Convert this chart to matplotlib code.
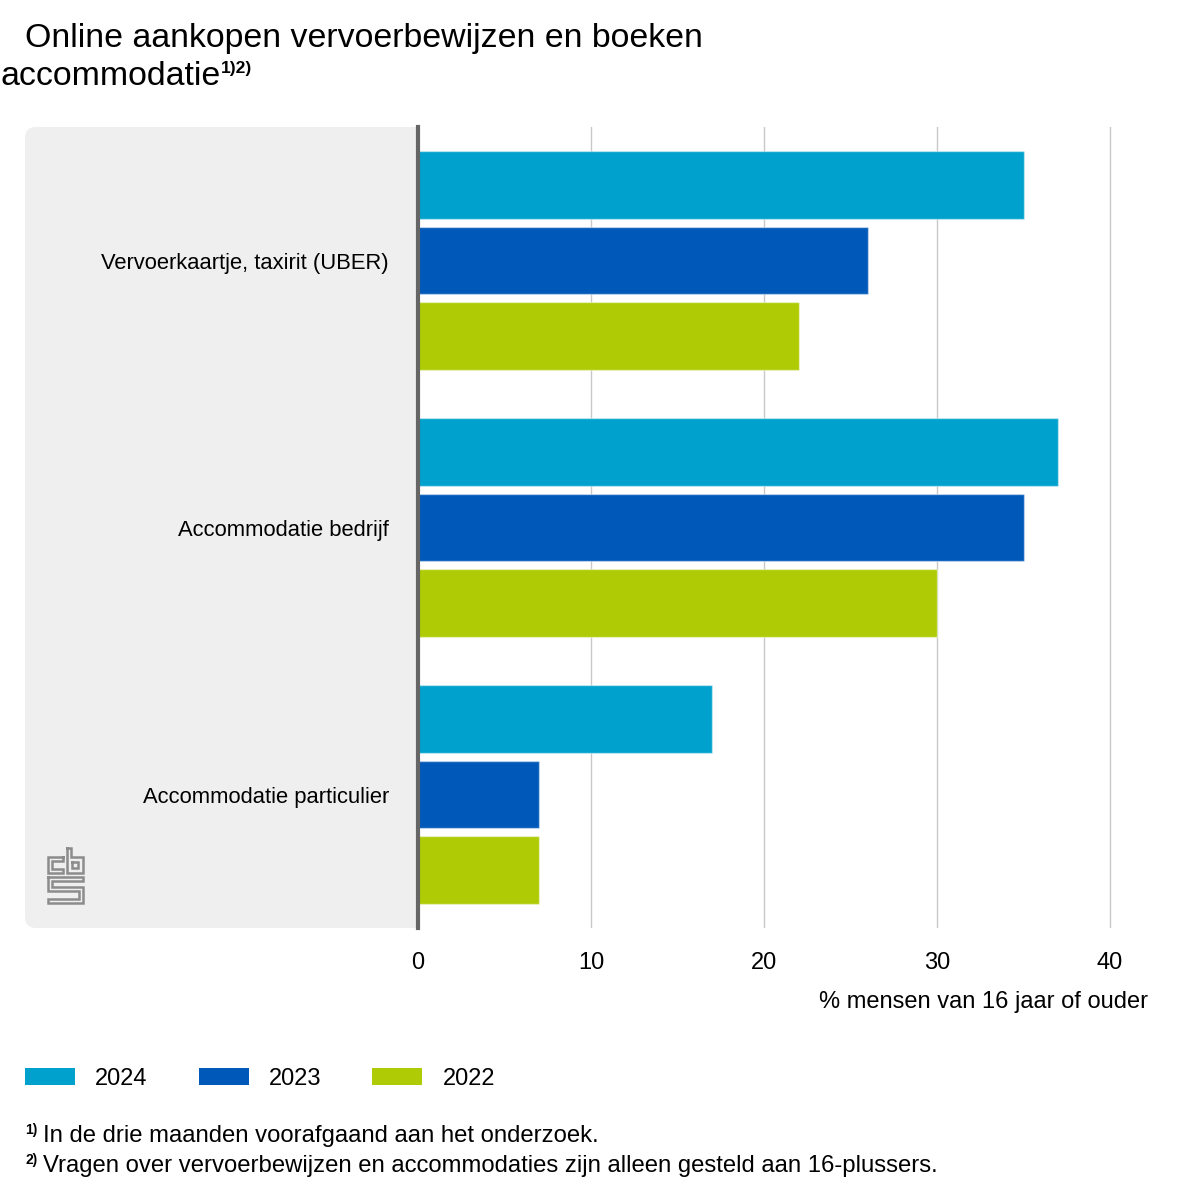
import matplotlib.pyplot as plt
import numpy as np
from matplotlib.patches import FancyBboxPatch
from matplotlib.lines import Line2D

plt.rcParams['font.family'] = ['Liberation Sans', 'DejaVu Sans']

categories = ['Vervoerkaartje, taxirit (UBER)', 'Accommodatie bedrijf', 'Accommodatie particulier']
years = ['2024', '2023', '2022']
values = {
    '2024': [35, 37, 17],
    '2023': [26, 35, 7],
    '2022': [22, 30, 7],
}
colors = {'2024': '#00a1cd', '2023': '#0058b8', '2022': '#afcb05'}
ticks = [0, 10, 20, 30, 40]

W = 1200.0
def fx(px):
    return px / W
def fy(py):
    return 1 - py / W

fig = plt.figure(figsize=(12, 12), dpi=100)

# grey panel behind the category labels
panel = FancyBboxPatch((fx(25), fy(928)), fx(440) - fx(25), fy(127) - fy(928),
                       boxstyle='round,pad=0,rounding_size=0.009',
                       transform=fig.transFigure, facecolor='#efefef',
                       edgecolor='none', zorder=-2)
fig.add_artist(panel)

ax = fig.add_axes([fx(418), fy(928), (40.3 * 17.3) / W, 801 / W])
ax.set_facecolor('white')

y = np.arange(len(categories))
step = 0.282
height = 0.254
for i, yr in enumerate(years):
    ax.barh(y + (i - 1) * step, values[yr], height=height, color=colors[yr],
            edgecolor=(1, 1, 1, 0.45), linewidth=1, label=yr, zorder=2)

ax.set_xlim(0, 40.3)
ax.set_ylim(len(categories) - 0.5, -0.5)
ax.set_xticks(ticks)
ax.set_xticklabels([str(t) for t in ticks])
ax.set_yticks(y)
ax.set_yticklabels(categories)
ax.grid(axis='x', color='#c8c8c8', linewidth=1, zorder=0)
ax.set_axisbelow(True)
for s in ax.spines.values():
    s.set_visible(False)
ax.axvline(0, color='#666666', linewidth=3, zorder=3, clip_on=False)
ax.tick_params(axis='both', length=0)
ax.tick_params(axis='x', pad=17.5, labelsize=17)
ax.tick_params(axis='y', pad=21, labelsize=15.8)

ax.set_xlabel('% mensen van 16 jaar of ouder', fontsize=17, ha='right', va='center')
ax.xaxis.set_label_coords((1148 - 418) / (40.3 * 17.3), (928 - 1002) / 801)

# title
t1 = fig.text(fx(25), fy(47), 'Online aankopen vervoerbewijzen en boeken',
              fontsize=24.4, va='baseline', ha='left')
t2 = fig.text(fx(1), fy(85), 'accommodatie', fontsize=24.4, va='baseline', ha='left')
fig.canvas.draw()
bb = t2.get_window_extent()
fig.text(bb.x1 / W - 0.0005, fy(73), '1)2)', fontsize=12.5, fontweight='bold',
         va='baseline', ha='left')

# legend
leg = fig.legend(*ax.get_legend_handles_labels(), loc='center left',
                 bbox_to_anchor=(fx(25), fy(1079)), ncol=3, frameon=False,
                 fontsize=17, handlelength=2.12, handleheight=0.76,
                 handletextpad=0.85, columnspacing=2.16, borderpad=0,
                 borderaxespad=0)
for h in leg.legend_handles:
    h.set_edgecolor('none')

# footnotes
fig.text(fx(25), fy(1134), '1)', fontsize=10, fontweight='bold', va='baseline')
fig.text(fx(43), fy(1142), 'In de drie maanden voorafgaand aan het onderzoek.',
         fontsize=17.2, va='baseline')
fig.text(fx(25), fy(1164), '2)', fontsize=10, fontweight='bold', va='baseline')
fig.text(fx(43), fy(1172), 'Vragen over vervoerbewijzen en accommodaties zijn alleen gesteld aan 16-plussers.',
         fontsize=17.2, va='baseline')

# cbs logo, drawn as outlines
logo = [
    [(63, 857), (48, 857), (48, 873), (63, 873), (63, 869), (52, 869), (52, 861), (63, 861), (63, 857)],
    [(67, 848), (71, 848), (71, 857), (83, 857), (83, 873), (67, 873), (67, 848)],
    [(72, 862), (78, 862), (78, 868), (72, 868), (72, 862)],
    [(48, 877), (83, 877), (83, 881), (52, 881), (52, 887), (83, 887), (83, 903),
     (48, 903), (48, 899), (79, 899), (79, 891), (48, 891), (48, 877)],
]
for pts in logo:
    xs = [fx(p[0]) for p in pts]
    ys = [fy(p[1]) for p in pts]
    fig.add_artist(Line2D(xs, ys, transform=fig.transFigure, color='#8c8c8c',
                          linewidth=1.8, solid_joinstyle='miter'))

fig.savefig('out.png', dpi=100)
